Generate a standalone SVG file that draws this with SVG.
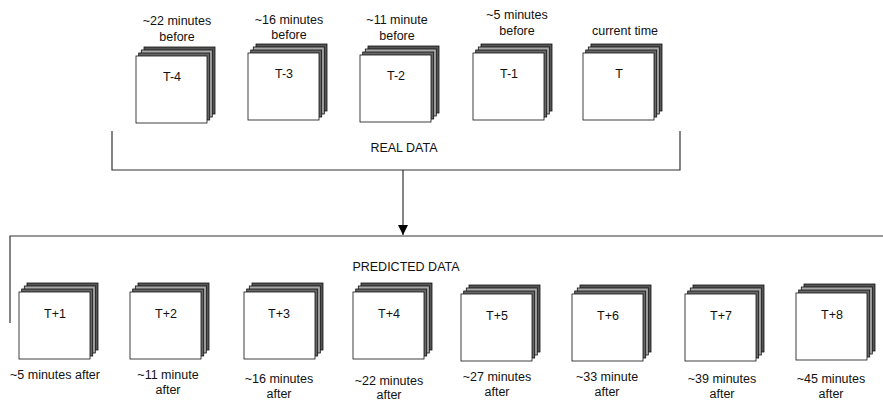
<svg xmlns="http://www.w3.org/2000/svg" xmlns:xlink="http://www.w3.org/1999/xlink" width="883" height="400" viewBox="0 0 883 400">
<style>
text{font-family:"Liberation Sans",Arial,sans-serif;font-size:12.5px;fill:#111;text-anchor:middle}
.ln{fill:none;stroke:#333;stroke-width:1.2}
.pg{stroke:#111;stroke-width:0.8}
</style>
<defs>
<g id="stack">
<rect class="pg" x="8" y="-9" width="71" height="67" fill="#555"/>
<rect class="pg" x="5.3" y="-6" width="71" height="67" fill="#aaa"/>
<rect class="pg" x="2.7" y="-3" width="71" height="67" fill="#666"/>
<rect class="pg" x="0" y="0" width="71" height="67" fill="#fff"/>
</g>
<marker id="arr" viewBox="0 0 10 10" refX="10" refY="5" markerWidth="10" markerHeight="10" markerUnits="userSpaceOnUse" orient="auto">
<path d="M0,0 L10,5 L0,10 Z" fill="#000"/>
</marker>
</defs>
<g id="connectors">
<path class="ln" d="M112,131 V170 H680 V131"/>
<path class="ln" d="M403,170 V235" marker-end="url(#arr)"/>
<path class="ln" d="M10,323 V236 H883"/>
<text x="404" y="152">REAL DATA</text>
<text x="406" y="271">PREDICTED DATA</text>
</g>
<g id="node-T-4"><use xlink:href="#stack" x="136" y="56"/><text x="172" y="81">T-4</text><text x="177" y="25">~22 minutes</text><text x="177" y="41">before</text></g>
<g id="node-T-3"><use xlink:href="#stack" x="248" y="53"/><text x="284" y="78">T-3</text><text x="289" y="24">~16 minutes</text><text x="289" y="39">before</text></g>
<g id="node-T-2"><use xlink:href="#stack" x="360" y="55"/><text x="396" y="80">T-2</text><text x="397" y="24">~11 minute</text><text x="397" y="40">before</text></g>
<g id="node-T-1"><use xlink:href="#stack" x="473" y="53"/><text x="509" y="78">T-1</text><text x="517" y="19">~5 minutes</text><text x="517" y="35">before</text></g>
<g id="node-T"><use xlink:href="#stack" x="583" y="53"/><text x="619" y="78">T</text><text x="625" y="35">current time</text></g>
<g id="node-T1"><use xlink:href="#stack" x="19" y="292"/><text x="55" y="318">T+1</text><text x="55" y="379">~5 minutes after</text></g>
<g id="node-T2"><use xlink:href="#stack" x="130" y="292"/><text x="166" y="318">T+2</text><text x="168" y="379">~11 minute</text><text x="168" y="394">after</text></g>
<g id="node-T3"><use xlink:href="#stack" x="244" y="292"/><text x="279" y="318">T+3</text><text x="279" y="383">~16 minutes</text><text x="279" y="398">after</text></g>
<g id="node-T4"><use xlink:href="#stack" x="353" y="292"/><text x="389" y="318">T+4</text><text x="389" y="385">~22 minutes</text><text x="389" y="398.5">after</text></g>
<g id="node-T5"><use xlink:href="#stack" x="461" y="294"/><text x="497" y="320">T+5</text><text x="497" y="381">~27 minutes</text><text x="497" y="396">after</text></g>
<g id="node-T6"><use xlink:href="#stack" x="572" y="294"/><text x="608" y="320">T+6</text><text x="607" y="381">~33 minute</text><text x="607" y="396">after</text></g>
<g id="node-T7"><use xlink:href="#stack" x="685" y="294"/><text x="721" y="320">T+7</text><text x="722" y="383">~39 minutes</text><text x="722" y="398">after</text></g>
<g id="node-T8"><use xlink:href="#stack" x="796" y="293"/><text x="832" y="319">T+8</text><text x="831" y="383">~45 minutes</text><text x="831" y="398">after</text></g>
</svg>
